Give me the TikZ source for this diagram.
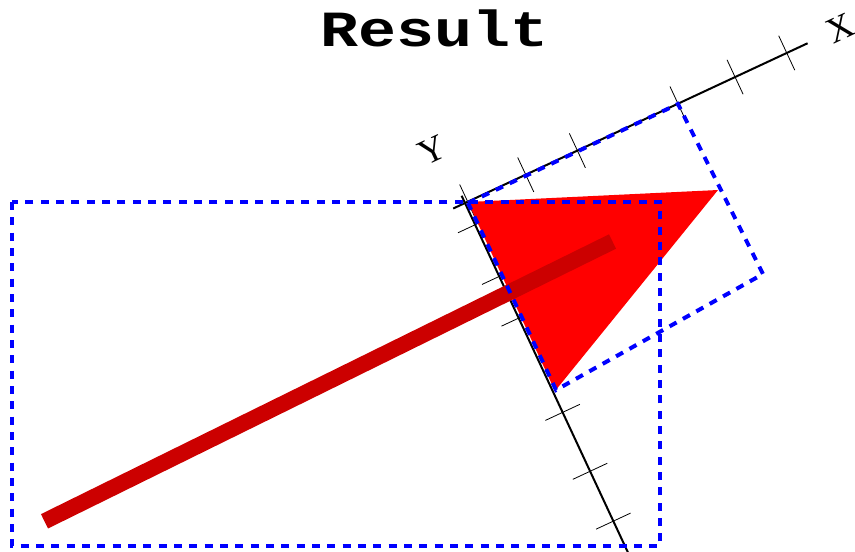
\documentclass[tikz,border=0pt]{standalone}
\usepackage{fontspec}
\setmainfont{Liberation Serif}
\newfontfamily\titlefont{Liberation Mono}
\usetikzlibrary{calc}
\definecolor{colFrame}{RGB}{0,0,255}
\definecolor{colShape}{RGB}{255,0,0}
\definecolor{colStroke}{RGB}{204,0,0}
\tikzset{
  px/.style={x=0.75pt, y=-0.75pt},
  axisline/.style={draw=black, line width=1.5pt},
  axistick/.style={draw=black, line width=0.6pt},
  bbox/.style={
    draw=colFrame, line width=3pt,
    dash pattern=on 6pt off 5.5pt
  },
  axislabel/.style={
    font=\fontsize{27}{27}\selectfont,
    inner sep=0pt, rotate=25
  },
  titletext/.style={
    font=\titlefont\bfseries\fontsize{38}{38}\selectfont,
    inner sep=0pt, anchor=base, xscale=1.25
  }
}

\begin{document}
\begin{tikzpicture}[px]

  \useasboundingbox (0,0) rectangle (855,551);

  \node[titletext] (title) at (435,46) {Result};

  % rotated frame
  \begin{scope}[shift={(465,203)}, rotate=25]
    \coordinate (xs) at (-13,0);
    \coordinate (xe) at (378,0);
    \coordinate (ys) at (0,-8);
    \coordinate (ye) at (0,400);
    \draw[axisline] (xs) -- (xe);
    \draw[axisline] (ys) -- (ye);
    \foreach \t in {3,67,124,235,298,355}
      \draw[axistick] (\t,-19) -- (\t,19);
    \foreach \t in {24,81,127,231,296,351}
      \draw[axistick] (-19,\t) -- (19,\t);
    \node[axislabel] (xlabel) at (414,0) {X};
    \node[axislabel] (ylabel) at (-7.5,-62) {Y};
  \end{scope}

  % shape and stroke
  \fill[colShape] (468,202) -- (718,190) -- (555,391) -- cycle;
  \draw[colStroke, line width=12pt] (44.5,521.3) -- (612.5,241.5);

  % bounding boxes
  \draw[bbox] (12,202) rectangle (660,546);
  \draw[bbox] (468,203) -- (678,104) -- (763,274) -- (556,390) -- cycle;

\end{tikzpicture}
\end{document}
